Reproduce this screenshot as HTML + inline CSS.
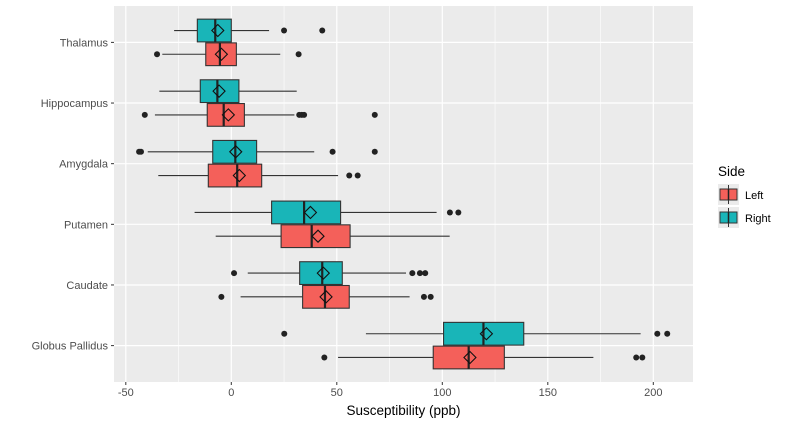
<!DOCTYPE html>
<html><head><meta charset="utf-8"><style>
html,body{margin:0;padding:0;background:#fff;}
svg{display:block;font-family:"Liberation Sans",Arial,sans-serif;}
</style></head><body>
<svg id="chart" width="788" height="425" viewBox="0 0 788 425" xmlns="http://www.w3.org/2000/svg"></svg>
<script>
const categories = ["Thalamus","Hippocampus","Amygdala","Putamen","Caudate","Globus Pallidus"];
const sides = ["Right","Left"];
// [whiskerLow, q1, median, q3, whiskerHigh, mean]
const rightStats = [
  [-27.1,-16.1,-7.6,0,17.9,-6.4],
  [-34.1,-14.7,-6.6,3.6,31,-5.8],
  [-39.6,-8.8,1.9,12,39.3,2.1],
  [-17.4,19.1,34.5,51.8,97.3,37.5],
  [7.8,32.4,43.1,52.6,82.8,43.6],
  [63.8,100.6,119.5,138.6,194,120.9]
];
const leftStats = [
  [-32.7,-12.1,-5.4,2.4,23.2,-4.7],
  [-36.2,-11.4,-3.6,6.2,29.9,-1.4],
  [-34.6,-10.9,2.8,14.4,50.6,3.8],
  [-7.4,23.6,38.1,56.3,103.5,41.1],
  [4.4,33.8,44.4,55.9,84.5,44.9],
  [50.6,95.7,112.5,129.4,171.6,113.1]
];
const rightOutliers = [[25,43.1],[],[-43.7,-42.8,48,68],[103.6,107.6],[1.3,85.8,89.4,91.9],[25.1,201.9,206.6]];
const leftOutliers = [[-35.2,31.9],[-41,32.2,33.4,34.5,68],[55.9,59.9],[],[-4.7,91.3,94.5],[44.1,191.9,194.8]];
const xTicks = [-50,0,50,100,150,200];
const xMinor = [-25,25,75,125,175];

const svg = document.getElementById('chart');
const NS = "http://www.w3.org/2000/svg";
const P = {l:114, r:693, t:6, b:382};
const xScale = v => 231.3 + v*2.11;
const bandStep = (P.b-P.t)/6.2;
const yScale = i => P.t + bandStep*(0.6+i);
function mk(tag, attrs, parent){
  const e = document.createElementNS(NS, tag);
  for (const k in attrs) e.setAttribute(k, attrs[k]);
  (parent||svg).appendChild(e);
  return e;
}
const panel = mk('rect',{x:P.l,y:P.t,width:P.r-P.l,height:P.b-P.t,fill:'#ebebeb'});


xMinor.forEach(v=>{
  const l = mk('line',{x1:xScale(v),x2:xScale(v),y1:P.t,y2:P.b,stroke:'#fff','stroke-width':0.6});
  
  
});
xTicks.forEach(v=>{
  const l = mk('line',{x1:xScale(v),x2:xScale(v),y1:P.t,y2:P.b,stroke:'#fff','stroke-width':1.2});
  
  
  const t = mk('line',{x1:xScale(v),x2:xScale(v),y1:P.b,y2:P.b+3,stroke:'#333','stroke-width':1});
  
  
  const tx = mk('text',{x:xScale(v),y:P.b+14,'text-anchor':'middle','font-size':11,fill:'#4d4d4d'});
  tx.textContent = v;
  
  
});
categories.forEach((c,i)=>{
  const y = yScale(i);
  const l = mk('line',{x1:P.l,x2:P.r,y1:y,y2:y,stroke:'#fff','stroke-width':1.2});
  
  
  const t = mk('line',{x1:P.l-3,x2:P.l,y1:y,y2:y,stroke:'#333','stroke-width':1});
  
  
  const tx = mk('text',{x:P.l-6,y:y+4,'text-anchor':'end','font-size':11,fill:'#4d4d4d'});
  tx.textContent = c;
  
  
});
const boxH = bandStep*0.375;
function drawBox(st, outs, cy, fill, name){
  const g = mk('g',{});
  
  
  mk('line',{x1:xScale(st[0]),x2:xScale(st[1]),y1:cy,y2:cy,stroke:'#333','stroke-width':1.1},g);
  mk('line',{x1:xScale(st[3]),x2:xScale(st[4]),y1:cy,y2:cy,stroke:'#333','stroke-width':1.1},g);
  mk('rect',{x:xScale(st[1]),y:cy-boxH/2,width:xScale(st[3])-xScale(st[1]),height:boxH,fill:fill,stroke:'#333','stroke-width':1.1},g);
  mk('line',{x1:xScale(st[2]),x2:xScale(st[2]),y1:cy-boxH/2,y2:cy+boxH/2,stroke:'#222','stroke-width':2.2},g);
  const mx = xScale(st[5]), d=6;
  mk('polygon',{points:`${mx-d},${cy} ${mx},${cy-d} ${mx+d},${cy} ${mx},${cy+d}`,fill:'none',stroke:'#111','stroke-width':1.1},g);
  outs.forEach(o=>{
    const p = mk('circle',{cx:xScale(o),cy:cy,r:3,fill:'#222'},g);
    
    
  });
}
categories.forEach((c,i)=>{
  const y = yScale(i);
  drawBox(rightStats[i], rightOutliers[i], y-boxH/2-0.5, '#19b5b8', 'box-right-'+i);
  drawBox(leftStats[i], leftOutliers[i], y+boxH/2+0.5, '#f4605a', 'box-left-'+i);
});
const xt = mk('text',{x:(P.l+P.r)/2,y:415,'text-anchor':'middle','font-size':13.5,fill:'#000'});
xt.textContent = 'Susceptibility (ppb)';


// legend
const lt = mk('text',{x:718,y:176,'font-size':13.5,fill:'#000'});
lt.textContent = 'Side';


[["Left","#f4605a",184],["Right","#19b5b8",207]].forEach(([lab,col,ky])=>{
  const g = mk('g',{});
  
  
  mk('rect',{x:718,y:ky,width:21,height:21,fill:'#ebebeb'},g);
  mk('line',{x1:728.5,x2:728.5,y1:ky+1,y2:ky+20,stroke:'#333','stroke-width':1},g);
  mk('rect',{x:720,y:ky+5,width:17,height:11,fill:col,stroke:'#333','stroke-width':1},g);
  mk('line',{x1:728.5,x2:728.5,y1:ky+5,y2:ky+16,stroke:'#222','stroke-width':1.5},g);
  const t = mk('text',{x:745,y:ky+15,'font-size':11,fill:'#000'},g);
  t.textContent = lab;
});
</script>
</body></html>
